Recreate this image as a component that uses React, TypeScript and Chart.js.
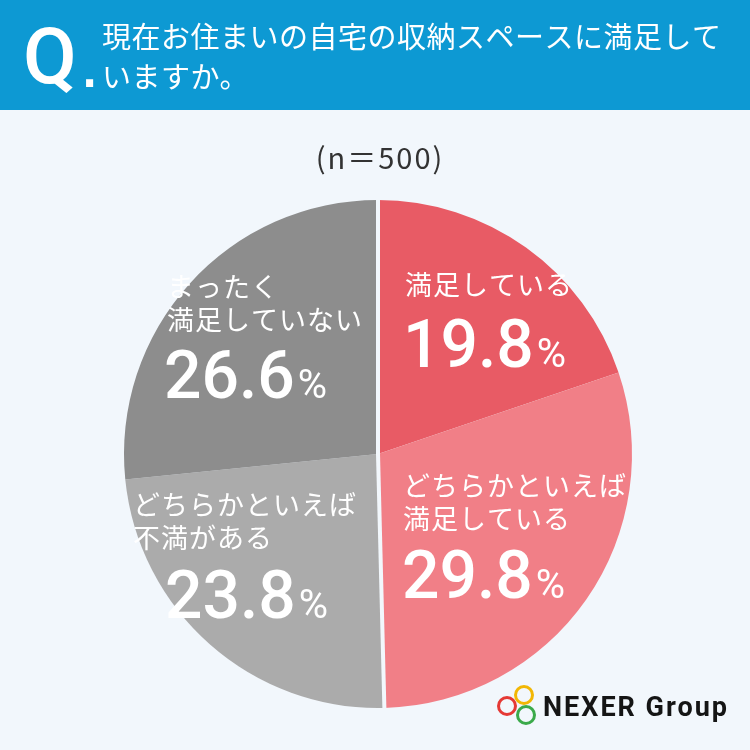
import React, { useEffect, useRef } from "react";
import { Chart, registerables } from "chart.js";

Chart.register(...registerables);

// ---- data ----
const CATEGORIES = [
  "満足している",
  "どちらかといえば満足している",
  "どちらかといえば不満がある",
  "まったく満足していない",
];
const LABEL_LINES = [
  ["満足している"],
  ["どちらかといえば", "満足している"],
  ["どちらかといえば", "不満がある"],
  ["まったく", "満足していない"],
];
const VALUES = [19.8, 29.8, 23.8, 26.6];
const TITLE_LINES = ["現在お住まいの自宅の収納スペースに満足して", "いますか。"];
const SAMPLE_TEXT = "(n＝500)";
const BRAND_TEXT = "NEXER Group";

// ---- styles / layout ----
const COLORS = ["#E85B65", "#F17F87", "#ABABAB", "#8D8D8D"];
const BG = "#F2F7FC";
const HEADER_BLUE = "#0D99D3";
const JP = '"Noto Sans CJK JP", "Noto Sans", sans-serif';
const NUM = 'Roboto, "Noto Sans", sans-serif';

// label offsets relative to pie centre
const LABEL_DX = [27, 25, -245, -211];
const LABEL_DY = [-169, 32, 51, -167];
const LINE_GAP = 33;
const NUM_DX = [25, 24, -213, -214];
const NUM_DY = [-87, 144, 164, -56];

const decorPlugin = {
  id: "decor",
  beforeDraw(chart: any) {
    const { ctx, width, height } = chart;
    ctx.save();
    ctx.fillStyle = BG;
    ctx.fillRect(0, 0, width, height);
    ctx.fillStyle = HEADER_BLUE;
    ctx.fillRect(0, 0, width, 110);

    // Q.
    ctx.fillStyle = "#FFFFFF";
    ctx.textBaseline = "alphabetic";
    ctx.textAlign = "left";
    ctx.font = `500 78px ${NUM}`;
    ctx.fillText("Q", 23, 83);
    ctx.font = `bold 40px "DejaVu Sans", sans-serif`;
    ctx.fillText(".", 82, 87);

    // title
    ctx.font = `400 29px ${JP}`;
    (ctx as any).letterSpacing = "0.5px";
    ctx.textBaseline = "middle";
    TITLE_LINES.forEach((t, i) => ctx.fillText(t, 102, 37 + i * 40));
    (ctx as any).letterSpacing = "0px";

    // sample size
    ctx.fillStyle = "#333333";
    ctx.font = `400 29px ${JP}`;
    (ctx as any).letterSpacing = "2px";
    ctx.textAlign = "center";
    ctx.fillText(SAMPLE_TEXT, 380, 158);
    (ctx as any).letterSpacing = "0px";
    ctx.restore();
  },
  afterDatasetsDraw(chart: any) {
    const { ctx } = chart;
    const meta = chart.getDatasetMeta(0);
    const first: any = meta.data[0];
    const { x, y, outerRadius } = first.getProps(["x", "y", "outerRadius"], true);
    ctx.save();
    // dividers between the satisfied / dissatisfied halves
    ctx.strokeStyle = BG;
    ctx.lineWidth = 4;
    [0, 2].forEach((idx) => {
      const arc: any = meta.data[idx];
      const { startAngle } = arc.getProps(["startAngle"], true);
      ctx.beginPath();
      ctx.moveTo(x, y);
      ctx.lineTo(x + Math.cos(startAngle) * (outerRadius + 2), y + Math.sin(startAngle) * (outerRadius + 2));
      ctx.stroke();
    });

    // labels
    ctx.fillStyle = "#FFFFFF";
    ctx.textAlign = "left";
    meta.data.forEach((_: any, i: number) => {
      ctx.font = `400 27px ${JP}`;
      (ctx as any).letterSpacing = "1px";
      ctx.textBaseline = "middle";
      LABEL_LINES[i].forEach((line, j) => {
        ctx.fillText(line, x + LABEL_DX[i], y + LABEL_DY[i] + j * LINE_GAP);
      });
      (ctx as any).letterSpacing = "0px";
      ctx.textBaseline = "alphabetic";
      const numStr = VALUES[i].toFixed(1);
      ctx.font = `500 66px ${NUM}`;
      const nx = x + NUM_DX[i];
      const ny = y + NUM_DY[i];
      ctx.fillText(numStr, nx, ny);
      const w = ctx.measureText(numStr).width;
      ctx.font = `400 40px ${NUM}`;
      ctx.fillText("%", nx + w + 3, ny);
    });
    ctx.restore();
  },
  afterDraw(chart: any) {
    const { ctx } = chart;
    ctx.save();
    // logo rings
    const rings = [
      { cx: 524, cy: 695, c: "#F2B705" },
      { cx: 507, cy: 706, c: "#E53935" },
      { cx: 526, cy: 715, c: "#3BAA4A" },
    ];
    ctx.lineWidth = 3;
    rings.forEach((r) => {
      ctx.strokeStyle = r.c;
      ctx.beginPath();
      ctx.arc(r.cx, r.cy, 8.5, 0, Math.PI * 2);
      ctx.stroke();
    });
    ctx.fillStyle = "#151515";
    ctx.font = `bold 27px ${NUM}`;
    (ctx as any).letterSpacing = "2px";
    ctx.textBaseline = "alphabetic";
    ctx.textAlign = "left";
    ctx.fillText(BRAND_TEXT, 543, 716);
    (ctx as any).letterSpacing = "0px";
    ctx.restore();
  },
};

export default function App() {
  const ref = useRef<HTMLCanvasElement | null>(null);
  useEffect(() => {
    if (!ref.current) return;
    const chart = new Chart(ref.current, {
      type: "pie",
      data: {
        labels: CATEGORIES,
        datasets: [
          {
            data: VALUES,
            backgroundColor: COLORS,
            borderWidth: 0,
          },
        ],
      },
      options: {
        responsive: false,
        animation: false,
        layout: { padding: { left: 124, right: 118, top: 200, bottom: 42 } },
        plugins: {
          legend: { display: false },
          tooltip: { enabled: false },
        },
      },
      plugins: [decorPlugin],
    });
    return () => chart.destroy();
  }, []);
  return (
    <div style={{ position: "absolute", left: 0, top: 0, width: 750, height: 750 }}>
      <canvas ref={ref} width={750} height={750} style={{ width: 750, height: 750 }} />
    </div>
  );
}
